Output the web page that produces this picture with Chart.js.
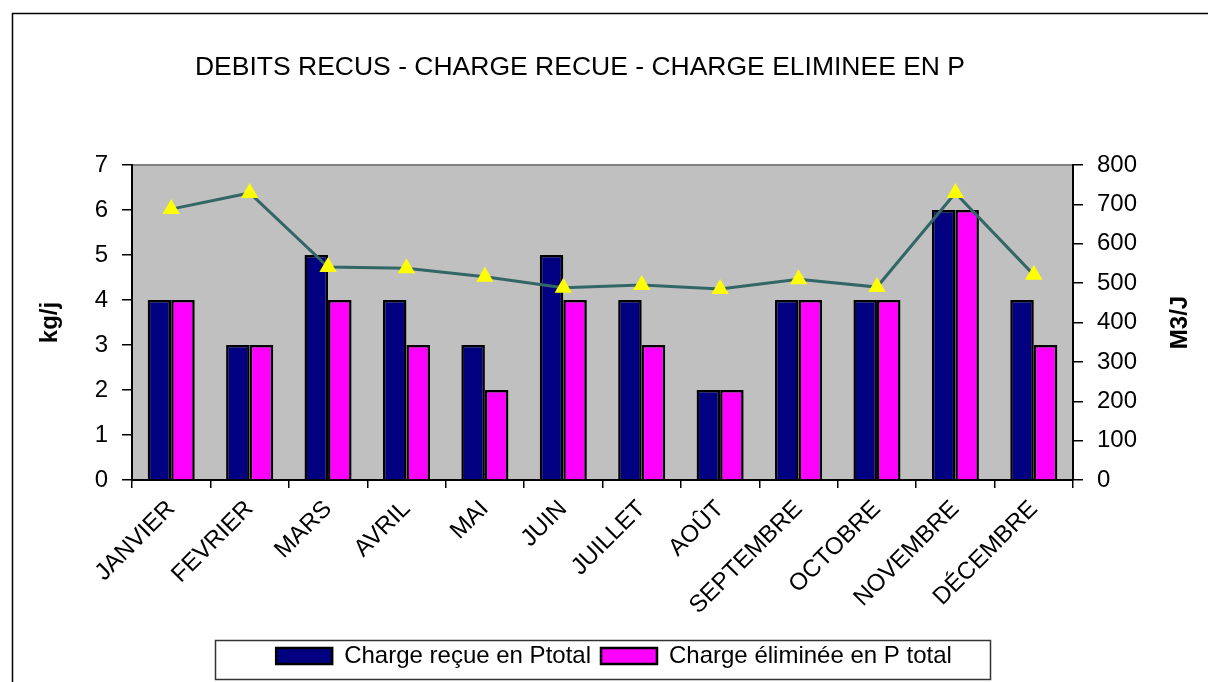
<!DOCTYPE html>
<html>
<head>
<meta charset="utf-8">
<script src="https://cdn.jsdelivr.net/npm/chart.js@4"></script>
<style>
    html, body { margin: 0; padding: 0; background: #fff; }
    #wrap { width: 1208px; height: 682px; }
</style>
</head>
<body>
<div id="wrap"><canvas id="chart" width="1208" height="682"></canvas></div>
<script>
// Data
const months = ['JANVIER', 'FEVRIER', 'MARS', 'AVRIL', 'MAI', 'JUIN', 'JUILLET', 'AOÛT', 'SEPTEMBRE', 'OCTOBRE', 'NOVEMBRE', 'DÉCEMBRE'];
const chargeRecue = [4, 3, 5, 4, 3, 5, 4, 2, 4, 4, 6, 4];
const chargeEliminee = [4, 3, 4, 3, 2, 4, 3, 2, 4, 4, 6, 3];
const debits = [688, 729, 541, 538, 516, 488, 495, 485, 510, 490, 729, 521];
const kgTicks = [0, 1, 2, 3, 4, 5, 6, 7];
const m3Ticks = [0, 100, 200, 300, 400, 500, 600, 700, 800];

const FONT = 'Arial, "Liberation Sans", sans-serif';
Chart.defaults.font.family = FONT;
Chart.defaults.color = '#000';

// frame, grey plot area, title, right axis title and legend box
const decor = {
    id: 'decor',
    beforeDraw(chart) {
        const ctx = chart.ctx;
        const a = chart.chartArea;
        ctx.save();
        ctx.fillStyle = '#fff';
        ctx.fillRect(0, 0, chart.width, chart.height);
        ctx.fillStyle = '#c0c0c0';
        ctx.fillRect(a.left, a.top, a.right - a.left, a.bottom - a.top);
        ctx.strokeStyle = '#000';
        ctx.lineWidth = 1.5;
        ctx.beginPath();
        ctx.moveTo(12.5, chart.height + 2);
        ctx.lineTo(12.5, 13.5);
        ctx.lineTo(chart.width + 2, 13.5);
        ctx.stroke();
        ctx.strokeStyle = '#808080';
        ctx.lineWidth = 2;
        ctx.beginPath();
        ctx.moveTo(a.left, a.top);
        ctx.lineTo(a.right, a.top);
        ctx.stroke();
        ctx.restore();
    },
    afterDraw(chart) {
        const ctx = chart.ctx;
        const a = chart.chartArea;
        ctx.save();
        ctx.fillStyle = '#000';
        ctx.font = '26.5px ' + FONT;
        ctx.textAlign = 'center';
        ctx.textBaseline = 'middle';
        ctx.fillText('DEBITS RECUS - CHARGE RECUE - CHARGE ELIMINEE EN P', 580, 68);
        ctx.translate(1180, (a.top + a.bottom) / 2);
        ctx.rotate(-Math.PI / 2);
        ctx.font = 'bold 24px ' + FONT;
        ctx.fillText('M3/J', 0, 0);
        ctx.restore();
        ctx.save();
        ctx.strokeStyle = '#333';
        ctx.lineWidth = 1.5;
        ctx.strokeRect(215.5, 640.5, 775, 39);
        ctx.restore();
    }
};

const ctx = document.getElementById('chart').getContext('2d');
new Chart(ctx, {
    data: {
        labels: months,
        datasets: [{
            type: 'line',
            label: 'Débits reçus',
            data: debits,
            yAxisID: 'y1',
            borderColor: '#336666',
            borderWidth: 3,
            tension: 0,
            pointStyle: 'triangle',
            pointRadius: 10,
            pointBackgroundColor: '#ffff00',
            pointBorderWidth: 0,
            order: 0
        }, {
            type: 'bar',
            label: 'Charge reçue en Ptotal',
            data: chargeRecue,
            yAxisID: 'y',
            backgroundColor: '#000080',
            borderColor: '#000',
            borderWidth: 2.5,
            categoryPercentage: 0.6,
            barPercentage: 1,
            order: 1
        }, {
            type: 'bar',
            label: 'Charge éliminée en P total',
            data: chargeEliminee,
            yAxisID: 'y',
            backgroundColor: '#ff00ff',
            borderColor: '#000',
            borderWidth: 2.5,
            categoryPercentage: 0.6,
            barPercentage: 1,
            order: 1
        }]
    },
    options: {
        responsive: false,
        animation: false,
        layout: { padding: { left: 32, right: 12, top: 165, bottom: 4 } },
        plugins: {
            tooltip: { enabled: false },
            legend: {
                position: 'bottom',
                labels: {
                    font: { size: 24 },
                    boxWidth: 56,
                    boxHeight: 16,
                    padding: 10,
                    filter: item => item.datasetIndex !== 0
                }
            }
        },
        scales: {
            x: {
                grid: { offset: true, drawOnChartArea: false, color: '#000', tickLength: 8, lineWidth: 1.5 },
                border: { color: '#000', width: 2 },
                ticks: { font: { size: 24 }, minRotation: 45, maxRotation: 45, padding: 7 },
                afterFit: s => { s.height = 154; }
            },
            y: {
                position: 'left',
                min: 0, max: 7,
                afterBuildTicks: s => { s.ticks = kgTicks.map(v => ({ value: v })); },
                grid: { drawOnChartArea: false, color: '#000', tickLength: 10, lineWidth: 1.5 },
                border: { color: '#000', width: 2 },
                ticks: { font: { size: 24 }, padding: 14 },
                title: { display: true, text: 'kg/j', font: { size: 24, weight: 'bold' }, padding: 4 },
                afterFit: s => { s.width = 100; }
            },
            y1: {
                position: 'right',
                min: 0, max: 800,
                afterBuildTicks: s => { s.ticks = m3Ticks.map(v => ({ value: v })); },
                grid: { drawOnChartArea: false, color: '#000', tickLength: 10, lineWidth: 1.5 },
                border: { color: '#000', width: 2 },
                ticks: { font: { size: 24 }, padding: 14 },
                afterFit: s => { s.width = 123; }
            }
        }
    },
    plugins: [decor]
});
</script>
</body>
</html>
